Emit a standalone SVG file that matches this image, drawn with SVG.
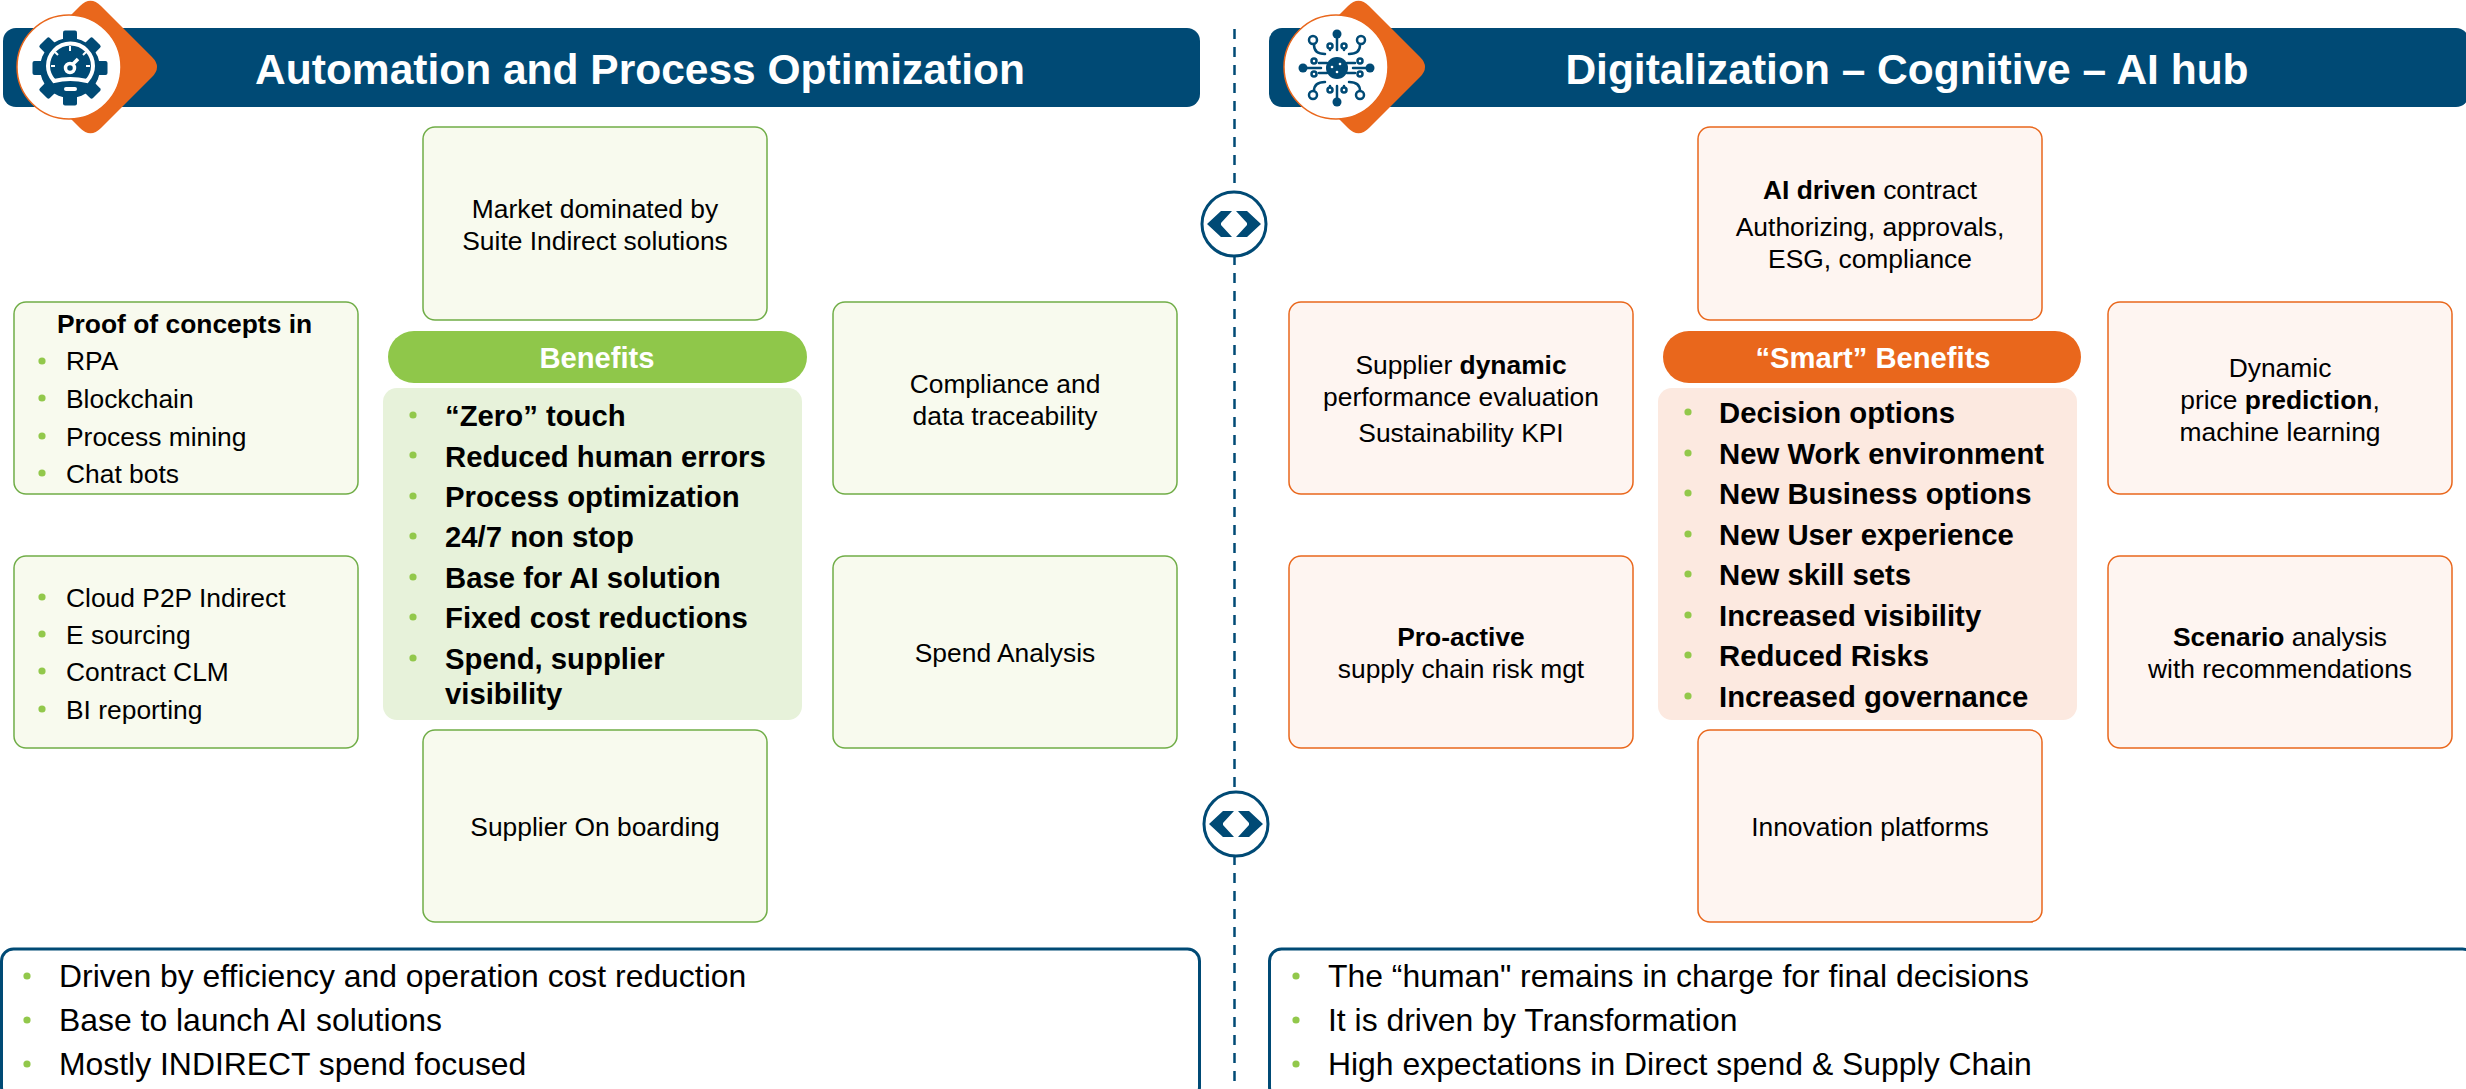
<svg xmlns="http://www.w3.org/2000/svg" width="2466" height="1089" viewBox="0 0 2466 1089">
<style>
text{font-family:"Liberation Sans",Arial,sans-serif;fill:#000}
.t{font-size:42.5px;font-weight:700;fill:#fff;text-anchor:middle}
.b{font-size:26.4px}
.c{text-anchor:middle}
.h{font-weight:700}
.g{fill:#f8faee;stroke:#70ad47;stroke-width:1.5}
.o{fill:#fef5f1;stroke:#e9671c;stroke-width:1.5}
.p{font-size:29.3px;font-weight:700}
.pt{font-size:29.2px;font-weight:700;fill:#fff;text-anchor:middle}
.f{font-size:31.9px}
.d{fill:#92c84b}
.bar{fill:#004a75}
.box{fill:#fff;stroke:#004a75;stroke-width:3}
.sw{fill:none;stroke:#004a75;stroke-width:2.5;stroke-linecap:round}
.sf{fill:#004a75}
</style>
<defs>
<g id="sw"><circle r="32" fill="#fff" stroke="#004a75" stroke-width="3"/><path class="sf" d="M-27 0L-13-13H-2L-13 -1V1L-2 13H-13ZM27 0L13-13H2L13-1V1L2 13H13Z"/></g>
<path id="diamond" d="M60 26L80 6Q90.500-4.500 101 6L152 57Q162 67 152 77L101 128Q90.500 138.500 80 128L60 108Z" fill="#e9671c"/>
<circle id="dot" r="3.6" class="d"/>
<rect id="tooth" x="-7" y="-37.500" width="14" height="12" rx="2" class="sf"/>
</defs>
<g id="connectors"><path d="M1234.500 29V190M1234.500 255V790M1234.500 855V1089" fill="none" stroke="#004a75" stroke-width="2.500" stroke-dasharray="10 8"/></g>

<g id="left-header">
<rect class="bar" x="3" y="28" width="1197" height="79" rx="13"/>
<use href="#diamond"/>
<circle cx="69" cy="67" r="52" fill="#fff" stroke="#e9671c" stroke-width="1.500"/>
<circle class="sf" cx="70" cy="68" r="30"/>
<g transform="translate(70 68)"><use href="#tooth"/><use href="#tooth" transform="rotate(45)"/><use href="#tooth" transform="rotate(90)"/><use href="#tooth" transform="rotate(135)"/><use href="#tooth" transform="rotate(180)"/><use href="#tooth" transform="rotate(225)"/><use href="#tooth" transform="rotate(270)"/><use href="#tooth" transform="rotate(315)"/></g>
<path d="M54 81Q48 74 48 66A22.500 22.500 0 0 1 93 66Q93 74 87 81Q70 77 54 81Z" fill="#004a75" stroke="#fff" stroke-width="4"/>
<circle cx="70" cy="68" r="4.500" fill="none" stroke="#fff" stroke-width="3.500"/>
<path d="M73 64L78 59" stroke="#fff" stroke-width="3.500"/>
<path d="M70 46V51M55 52L58 55M86 52L83 55M51 66H55M90 66H86" stroke="#fff" stroke-width="2"/>
<rect x="64" y="87" width="13" height="4" rx="2" fill="#fff"/>
<text class="t" x="640" y="84">Automation and Process Optimization</text>
</g>

<g id="right-header">
<rect class="bar" x="1269" y="28" width="1200" height="79" rx="13"/>
<use href="#diamond" x="1268"/>
<circle cx="1336" cy="67" r="52" fill="#fff" stroke="#e9671c" stroke-width="1.500"/>
<circle class="sf" cx="1337" cy="68" r="11"/>
<g fill="#fff"><circle cx="1332" cy="67" r="1.300"/><circle cx="1340" cy="64" r="1.300"/><circle cx="1337" cy="72" r="1.300"/></g>
<g class="sf"><circle cx="1337" cy="34" r="4.500"/><circle cx="1337" cy="102" r="4.500"/><circle cx="1303" cy="68" r="4.500"/><circle cx="1370" cy="68" r="4.500"/></g>
<path class="sw" d="M1337 38V50M1337 86V98M1307 68H1321M1353 68H1366M1314 44V45Q1314 54 1325 54M1360 44V45Q1360 54 1349 54M1314 92V91Q1314 82 1325 82M1360 92V91Q1360 82 1349 82M1330 50V48M1344 50V48M1330 86V88M1344 86V88M1319 63H1327M1347 63H1355M1319 73H1327M1347 73H1355"/>
<g fill="#fff" stroke="#004a75" stroke-width="2.500"><circle cx="1313" cy="40" r="4"/><circle cx="1361" cy="40" r="4"/><circle cx="1313" cy="95" r="4"/><circle cx="1360" cy="95" r="4"/><circle cx="1330" cy="46" r="2.500"/><circle cx="1344" cy="46" r="2.500"/><circle cx="1330" cy="90" r="2.500"/><circle cx="1344" cy="90" r="2.500"/><circle cx="1314" cy="61" r="2.500"/><circle cx="1360" cy="61" r="2.500"/><circle cx="1314" cy="74" r="2.500"/><circle cx="1360" cy="74" r="2.500"/></g>
<text class="t" x="1907" y="84">Digitalization – Cognitive – AI hub</text>
</g>

<g id="switch-top"><use href="#sw" x="1234" y="224"/></g>
<g id="switch-bottom"><use href="#sw" x="1236" y="824"/></g>

<g id="l-top"><rect class="g" x="423" y="127" width="344" height="193" rx="12"/><text class="b c" x="595" y="218">Market dominated by</text><text class="b c" x="595" y="250">Suite Indirect solutions</text></g>
<g id="l-poc"><rect class="g" x="14" y="302" width="344" height="192" rx="12"/><text class="b h" x="57" y="333">Proof of concepts in</text><use href="#dot" x="42" y="361"/><text class="b" x="66" y="370">RPA</text><use href="#dot" x="42" y="398"/><text class="b" x="66" y="408">Blockchain</text><use href="#dot" x="42" y="436"/><text class="b" x="66" y="446">Process mining</text><use href="#dot" x="42" y="473"/><text class="b" x="66" y="483">Chat bots</text></g>
<g id="l-cloud"><rect class="g" x="14" y="556" width="344" height="192" rx="12"/><use href="#dot" x="42" y="597"/><text class="b" x="66" y="607">Cloud P2P Indirect</text><use href="#dot" x="42" y="634"/><text class="b" x="66" y="644">E sourcing</text><use href="#dot" x="42" y="671"/><text class="b" x="66" y="681">Contract CLM</text><use href="#dot" x="42" y="709"/><text class="b" x="66" y="719">BI reporting</text></g>
<g id="l-compliance"><rect class="g" x="833" y="302" width="344" height="192" rx="12"/><text class="b c" x="1005" y="393">Compliance and</text><text class="b c" x="1005" y="425">data traceability</text></g>
<g id="l-spend"><rect class="g" x="833" y="556" width="344" height="192" rx="12"/><text class="b c" x="1005" y="662">Spend Analysis</text></g>
<g id="l-bottom"><rect class="g" x="423" y="730" width="344" height="192" rx="12"/><text class="b c" x="595" y="836">Supplier On boarding</text></g>
<g id="l-benefits"><rect x="388" y="331" width="419" height="52" rx="26" fill="#8fc74a"/><text class="pt" x="597" y="368">Benefits</text>
<rect x="383" y="388" width="419" height="332" rx="14" fill="#e7f2da"/>
<use href="#dot" x="413" y="415"/><text class="p" x="445" y="426">“Zero” touch</text>
<use href="#dot" x="413" y="455"/><text class="p" x="445" y="467">Reduced human errors</text>
<use href="#dot" x="413" y="496"/><text class="p" x="445" y="507">Process optimization</text>
<use href="#dot" x="413" y="536"/><text class="p" x="445" y="547">24/7 non stop</text>
<use href="#dot" x="413" y="577"/><text class="p" x="445" y="588">Base for AI solution</text>
<use href="#dot" x="413" y="617"/><text class="p" x="445" y="628">Fixed cost reductions</text>
<use href="#dot" x="413" y="658"/><text class="p" x="445" y="669">Spend, supplier</text><text class="p" x="445" y="704">visibility</text></g>
<g id="l-notes"><rect class="box" x="1.500" y="949" width="1198" height="150" rx="12"/>
<use href="#dot" x="27" y="976"/><text class="f" x="59" y="987">Driven by efficiency and operation cost reduction</text>
<use href="#dot" x="27" y="1020"/><text class="f" x="59" y="1031">Base to launch AI solutions</text>
<use href="#dot" x="27" y="1064"/><text class="f" x="59" y="1075">Mostly INDIRECT spend focused</text></g>

<g id="r-top"><rect class="o" x="1698" y="127" width="344" height="193" rx="12"/><text class="b c" x="1870" y="199"><tspan class="h">AI driven</tspan> contract</text><text class="b c" x="1870" y="236">Authorizing, approvals,</text><text class="b c" x="1870" y="268">ESG, compliance</text></g>
<g id="r-supplier"><rect class="o" x="1289" y="302" width="344" height="192" rx="12"/><text class="b c" x="1461" y="374">Supplier <tspan class="h">dynamic</tspan></text><text class="b c" x="1461" y="406">performance evaluation</text><text class="b c" x="1461" y="442">Sustainability KPI</text></g>
<g id="r-proactive"><rect class="o" x="1289" y="556" width="344" height="192" rx="12"/><text class="b c h" x="1461" y="646">Pro-active</text><text class="b c" x="1461" y="678">supply chain risk mgt</text></g>
<g id="r-price"><rect class="o" x="2108" y="302" width="344" height="192" rx="12"/><text class="b c" x="2280" y="377">Dynamic</text><text class="b c" x="2280" y="409">price <tspan class="h">prediction</tspan>,</text><text class="b c" x="2280" y="441">machine learning</text></g>
<g id="r-scenario"><rect class="o" x="2108" y="556" width="344" height="192" rx="12"/><text class="b c h" x="2280" y="646">Scenario <tspan font-weight="400">analysis</tspan></text><text class="b c" x="2280" y="678">with recommendations</text></g>
<g id="r-bottom"><rect class="o" x="1698" y="730" width="344" height="192" rx="12"/><text class="b c" x="1870" y="836">Innovation platforms</text></g>
<g id="r-benefits"><rect x="1663" y="331" width="418" height="52" rx="26" fill="#e9671c"/><text class="pt" x="1873" y="368">“Smart” Benefits</text>
<rect x="1658" y="388" width="419" height="332" rx="14" fill="#fce9e0"/>
<use href="#dot" x="1688" y="412"/><text class="p" x="1719" y="423">Decision options</text>
<use href="#dot" x="1688" y="453"/><text class="p" x="1719" y="464">New Work environment</text>
<use href="#dot" x="1688" y="493"/><text class="p" x="1719" y="504">New Business options</text>
<use href="#dot" x="1688" y="534"/><text class="p" x="1719" y="545">New User experience</text>
<use href="#dot" x="1688" y="574"/><text class="p" x="1719" y="585">New skill sets</text>
<use href="#dot" x="1688" y="615"/><text class="p" x="1719" y="626">Increased visibility</text>
<use href="#dot" x="1688" y="655"/><text class="p" x="1719" y="666">Reduced Risks</text>
<use href="#dot" x="1688" y="696"/><text class="p" x="1719" y="707">Increased governance</text></g>
<g id="r-notes"><rect class="box" x="1269.500" y="949" width="1205" height="150" rx="12"/>
<use href="#dot" x="1296" y="976"/><text class="f" x="1328" y="987">The “human" remains in charge for final decisions</text>
<use href="#dot" x="1296" y="1020"/><text class="f" x="1328" y="1031">It is driven by Transformation</text>
<use href="#dot" x="1296" y="1064"/><text class="f" x="1328" y="1075">High expectations in Direct spend &amp; Supply Chain</text></g>
</svg>
